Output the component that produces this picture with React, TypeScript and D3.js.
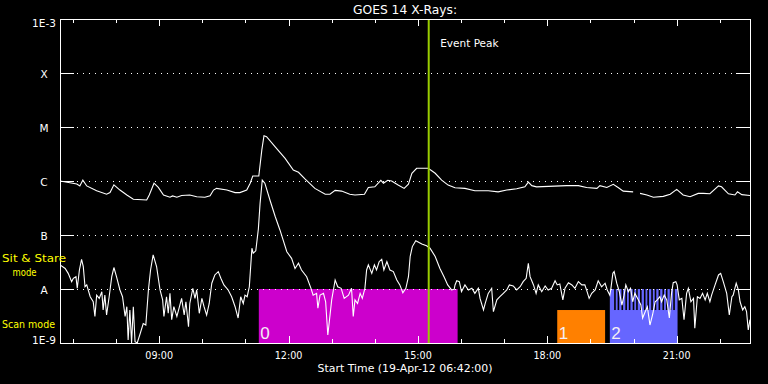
import React from "react";
import * as d3 from "d3";

const W = 768;
const H = 384;
const PL = 60, PR = 750, PT = 19, PB = 343;

const startHour = 6.7;
const endHour = 22.7;
const hourTicks = [7, 8, 9, 10, 11, 12, 13, 14, 15, 16, 17, 18, 19, 20, 21, 22];
const labeledHours = [9, 12, 15, 18, 21];
const tickLabels = ["09:00", "12:00", "15:00", "18:00", "21:00"];

const yLevels = [1e-9, 1e-8, 1e-7, 1e-6, 1e-5, 1e-4, 1e-3];
const yLabels = ["1E-9", "A", "B", "C", "M", "X", "1E-3"];
const gridLevels = [1e-8, 1e-7, 1e-6, 1e-5, 1e-4];

const eventPeak = 15.25;
const sitStareSplit = 4.08e-9; // boundary between sit&stare row and scan row

// [hour, flux] long channel (1-8 A)
const longChannel: [number, number][] = [
  [6.70, 1.0e-6], [7.09, 8.8e-7], [7.16, 8.1e-7], [7.23, 1.04e-6], [7.32, 8.1e-7],
  [7.55, 6.6e-7], [7.78, 5.7e-7], [7.86, 6.1e-7], [7.95, 8.5e-7], [8.09, 6.8e-7],
  [8.25, 5.5e-7], [8.40, 4.6e-7], [8.71, 4.45e-7], [8.77, 5.5e-7], [8.88, 9.1e-7],
  [8.98, 7.6e-7], [9.10, 5.5e-7], [9.25, 5.0e-7], [9.31, 5.3e-7], [9.41, 5.0e-7],
  [9.52, 5.4e-7], [9.71, 5.5e-7], [9.87, 5.1e-7], [10.06, 5.0e-7], [10.18, 5.3e-7],
  [10.26, 6.8e-7], [10.33, 7.3e-7], [10.57, 6.8e-7], [10.76, 6.1e-7], [10.87, 6.1e-7],
  [11.03, 6.8e-7], [11.11, 9.1e-7], [11.17, 1.24e-6], [11.31, 1.24e-6], [11.38, 3.76e-6],
  [11.43, 6.9e-6], [11.49, 6.6e-6], [11.69, 4.3e-6], [11.92, 2.63e-6], [12.11, 1.6e-6],
  [12.23, 1.45e-6], [12.38, 1.09e-6], [12.61, 7.3e-7], [12.85, 5.7e-7], [12.96, 5.7e-7],
  [13.08, 6.7e-7], [13.23, 6.5e-7], [13.42, 5.7e-7], [13.54, 5.5e-7], [13.76, 5.7e-7],
  [13.85, 7.6e-7], [14.00, 7.8e-7], [14.14, 1.03e-6], [14.20, 9.1e-7], [14.30, 1.03e-6],
  [14.39, 1.0e-6], [14.54, 8.4e-7], [14.68, 7.3e-7], [14.78, 8.7e-7], [14.86, 1.39e-6],
  [14.97, 1.72e-6], [15.24, 1.72e-6], [15.40, 1.39e-6], [15.55, 1.04e-6], [15.70, 8.4e-7],
  [15.86, 7.5e-7], [16.09, 7.3e-7], [16.32, 6.6e-7], [16.63, 6.6e-7], [16.86, 6.3e-7],
  [17.06, 6.8e-7], [17.29, 7.2e-7], [17.48, 7.8e-7], [17.56, 9.5e-7], [17.64, 8.2e-7],
  [17.75, 7.8e-7], [18.45, 8.2e-7], [18.72, 8.2e-7], [18.91, 7.6e-7], [19.15, 7.3e-7],
  [19.22, 8.2e-7], [19.38, 7.6e-7], [19.53, 8.7e-7], [19.65, 7.5e-7], [19.76, 6.5e-7],
  [19.99, 6.3e-7], [20.07, NaN], [20.15, 5.9e-7], [20.31, 5.5e-7], [20.46, 5.0e-7],
  [20.69, 5.2e-7], [20.85, 5.7e-7], [21.00, 7.0e-7], [21.15, 5.5e-7], [21.31, 5.1e-7],
  [21.50, 5.9e-7], [21.62, 5.9e-7], [21.77, 5.8e-7], [21.97, 8.1e-7], [22.04, 7.8e-7],
  [22.20, 5.8e-7], [22.35, 5.5e-7], [22.41, 6.3e-7], [22.51, 5.6e-7], [22.70, 5.4e-7],
];

// [hour, flux] short channel (0.5-4 A)
const shortChannel: [number, number][] = [
  [6.70, 2.8e-8], [6.82, 2.4e-8], [6.89, 1.95e-8], [6.97, 1.37e-8], [7.01, 1.58e-8],
  [7.07, 1.69e-8], [7.10, 1.03e-8], [7.15, 2.25e-8], [7.20, 3.55e-8], [7.24, 2.6e-8],
  [7.28, 1.1e-8], [7.32, 1.19e-8], [7.40, 7.2e-9], [7.47, 5.8e-9], [7.51, 3.1e-9],
  [7.55, 7.7e-9], [7.61, 6.7e-9], [7.67, 8.9e-9], [7.70, 4.1e-9], [7.74, 7.7e-9],
  [7.78, 3.3e-9], [7.84, 7.2e-9], [7.90, 1.69e-8], [7.95, 2.5e-8], [8.01, 1.69e-8],
  [8.09, 9.6e-9], [8.15, 7.2e-9], [8.21, 3.1e-9], [8.25, 4.7e-9], [8.28, 1.14e-9],
  [8.32, 4.1e-9], [8.36, 1.0e-9], [8.40, 4.7e-9], [8.44, 1.06e-9], [8.49, 1.0e-9],
  [8.56, 1.5e-9], [8.63, 2.3e-9], [8.69, 2.15e-9], [8.75, 9.6e-9], [8.80, 2.25e-8],
  [8.86, 4.3e-8], [8.94, 2.6e-8], [9.02, 9.6e-9], [9.08, 6.3e-9], [9.11, 3.1e-9],
  [9.17, 7.2e-9], [9.21, 3.55e-9], [9.25, 8.3e-9], [9.29, 2.7e-9], [9.34, 4.7e-9],
  [9.41, 3.1e-9], [9.47, 4.7e-9], [9.52, 6.7e-9], [9.58, 3.3e-9], [9.62, 5.8e-9],
  [9.68, 2.0e-9], [9.71, 5.4e-9], [9.78, 1.03e-8], [9.83, 6.7e-9], [9.87, 9.6e-9],
  [9.93, 3.55e-9], [9.99, 6.7e-9], [10.04, 4.7e-9], [10.10, 3.3e-9], [10.16, 5.4e-9],
  [10.22, 1.28e-8], [10.29, 1.82e-8], [10.37, 2.1e-8], [10.43, 1.58e-8], [10.50, 1.19e-8],
  [10.60, 9.6e-9], [10.68, 7.2e-9], [10.76, 4.7e-9], [10.83, 2.9e-9], [10.89, 7.2e-9],
  [10.95, 5.4e-9], [10.99, 7.7e-9], [11.04, 7.2e-9], [11.09, 1.1e-8], [11.15, 5.7e-8],
  [11.18, 4.6e-8], [11.24, 5.1e-8], [11.30, 1.3e-7], [11.34, 3.9e-7], [11.39, 1.04e-6],
  [11.45, 9.1e-7], [11.57, 4.4e-7], [11.69, 2.2e-7], [11.80, 1.24e-7], [11.96, 4.9e-8],
  [12.07, 3.7e-8], [12.15, 2.4e-8], [12.23, 3.0e-8], [12.30, 2.25e-8], [12.42, 1.69e-8],
  [12.52, 1.03e-8], [12.57, 7.7e-9], [12.65, 8.3e-9], [12.68, 4.4e-9], [12.73, 7.7e-9],
  [12.81, 8.3e-9], [12.86, 5.8e-9], [12.91, 1.41e-9], [12.94, 2.3e-9], [13.00, 6.3e-9],
  [13.08, 1.47e-8], [13.14, 1.1e-8], [13.22, 1.03e-8], [13.29, 6.7e-9], [13.39, 7.7e-9],
  [13.46, 1.03e-8], [13.50, 3.1e-9], [13.54, 6.3e-9], [13.60, 5.4e-9], [13.66, 8.3e-9],
  [13.71, 6.7e-9], [13.77, 1.03e-8], [13.81, 2.25e-8], [13.85, 2.8e-8], [13.93, 1.95e-8],
  [13.99, 2.8e-8], [14.04, 2.25e-8], [14.10, 3.2e-8], [14.16, 3.55e-8], [14.21, 2.25e-8],
  [14.28, 3.2e-8], [14.35, 2.25e-8], [14.43, 2.1e-8], [14.51, 1.47e-8], [14.58, 1.19e-8],
  [14.65, 8.5e-9], [14.72, 1.03e-8], [14.78, 1.69e-8], [14.82, 4.0e-8], [14.87, 6.1e-8],
  [14.95, 7.8e-8], [15.09, 6.8e-8], [15.20, 6.3e-8], [15.28, 5.7e-8], [15.40, 4.0e-8],
  [15.51, 2.4e-8], [15.61, 1.65e-8], [15.69, 1.19e-8], [15.78, 9.6e-9], [15.84, 9.9e-9],
  [15.86, 1.19e-8], [15.90, 1.42e-8], [15.96, 1.37e-8], [16.01, 8.9e-9], [16.09, 1.19e-8],
  [16.17, 9.6e-9], [16.25, 1.03e-8], [16.32, 8.3e-9], [16.40, 1.03e-8], [16.44, 6.7e-9],
  [16.52, 4.1e-9], [16.56, 5.4e-9], [16.63, 8.3e-9], [16.71, 1.03e-8], [16.75, 3.8e-9],
  [16.83, 6.3e-9], [16.90, 7.2e-9], [16.98, 8.3e-9], [17.06, 9.6e-9], [17.12, 1.19e-8],
  [17.21, 1.14e-8], [17.29, 9.6e-9], [17.37, 1.1e-8], [17.44, 1.37e-8], [17.51, 1.58e-8],
  [17.56, 3.0e-8], [17.60, 1.69e-8], [17.68, 1.19e-8], [17.74, 8.3e-9], [17.79, 1.19e-8],
  [17.87, 8.9e-9], [17.95, 1.14e-8], [18.02, 9.6e-9], [18.10, 1.03e-8], [18.18, 1.42e-8],
  [18.23, 1.19e-8], [18.29, 1.24e-8], [18.36, 6.3e-9], [18.41, 1.03e-8], [18.49, 1.31e-8],
  [18.57, 1.19e-8], [18.64, 1.03e-8], [18.72, 1.37e-8], [18.80, 1.19e-8], [18.87, 1.19e-8],
  [18.91, 9.6e-9], [18.97, 6.7e-9], [19.03, 8.3e-9], [19.11, 9.6e-9], [19.18, 1.42e-8],
  [19.26, 1.1e-8], [19.34, 1.28e-8], [19.39, 9.6e-9], [19.45, 7.7e-9], [19.47, 9.6e-9],
  [19.52, 1.95e-8], [19.55, 2.1e-8], [19.61, 1.28e-8], [19.67, 8.9e-9], [19.73, 5.05e-9],
  [19.78, 7.7e-9], [19.82, 1.19e-8], [19.88, 8.9e-9], [19.93, 1.03e-8], [19.98, 5.8e-9],
  [20.03, 8.3e-9], [20.11, 6.3e-9], [20.17, 5.05e-9], [20.21, 2.9e-9], [20.27, 3.8e-9],
  [20.32, 4.7e-9], [20.38, 2.15e-9], [20.44, 3.3e-9], [20.50, 5.8e-9], [20.55, 6.3e-9],
  [20.61, 7.2e-9], [20.65, 5.8e-9], [20.71, 7.7e-9], [20.77, 6.3e-9], [20.83, 2.9e-9],
  [20.88, 8.3e-9], [20.92, 1.31e-8], [20.98, 1.37e-8], [21.01, 1.19e-8], [21.06, 6.3e-9],
  [21.12, 6.7e-9], [21.17, 2.7e-9], [21.23, 8.3e-9], [21.27, 1.03e-8], [21.33, 5.8e-9],
  [21.39, 6.7e-9], [21.42, 1.87e-9], [21.48, 7.2e-9], [21.54, 6.7e-9], [21.60, 8.3e-9],
  [21.66, 6.3e-9], [21.71, 8.3e-9], [21.77, 5.8e-9], [21.81, 7.7e-9], [21.89, 1.19e-8],
  [21.97, 1.82e-8], [22.02, 1.95e-8], [22.08, 1.37e-8], [22.16, 8.3e-9], [22.22, 3.3e-9],
  [22.28, 7.2e-9], [22.31, 7.7e-9], [22.38, 1.28e-8], [22.43, 9.6e-9], [22.47, 5.8e-9],
  [22.53, 4.1e-9], [22.58, 4.7e-9], [22.62, 3.8e-9], [22.66, 1.74e-9], [22.70, 2.7e-9],
];

// observation mode blocks
const blockLabels = ["0", "1", "2"];
const blockStarts = [11.31, 18.23, 19.45];
const blockEnds = [15.92, 19.34, 21.02];
const blockRows = ["both", "scan", "both"];
const blockColors = ["#cc00cc", "#ff8000", "#6666ff"];

// short interruptions of sit & stare within block 2
const stareGaps = [19.55, 19.63, 19.72, 19.81, 19.89, 19.98, 20.06, 20.15, 20.24,
  20.32, 20.41, 20.49, 20.58, 20.67, 20.75, 20.84, 20.92];
const stareGapWidth = 0.037;

const FONT = "'DejaVu Sans', sans-serif";

export default function App() {
  const x = d3.scaleLinear().domain([startHour, endHour]).range([PL, PR]);
  const y = d3.scaleLog().domain([1e-9, 1e-3]).range([PB, PT]);

  const line = d3
    .line<[number, number]>()
    .defined((d) => !isNaN(d[1]))
    .x((d) => x(d[0]))
    .y((d) => y(Math.max(d[1], 1e-9)));

  const rowTop = y(1e-8);
  const rowSplit = y(sitStareSplit);

  return (
    <svg
      width={W}
      height={H}
      style={{ position: "absolute", left: 0, top: 0, background: "#000" }}
    >
      <rect x={0} y={0} width={W} height={H} fill="#000" />
      <defs>
        <clipPath id="plot">
          <rect x={PL} y={PT} width={PR - PL} height={PB - PT} />
        </clipPath>
      </defs>

      {/* mode blocks */}
      {blockLabels.map((lab, i) => {
        const x0 = x(blockStarts[i]);
        const x1 = x(blockEnds[i]);
        const top = blockRows[i] === "both" ? rowTop : rowSplit;
        return (
          <g key={lab}>
            <rect x={x0} y={top} width={x1 - x0} height={PB - top} fill={blockColors[i]} />
          </g>
        );
      })}
      {stareGaps.map((g, i) => (
        <rect
          key={i}
          x={x(g)}
          y={rowTop}
          width={x(g + stareGapWidth) - x(g)}
          height={rowSplit - rowTop}
          fill="#000"
        />
      ))}
      {blockLabels.map((lab, i) => (
        <text
          key={"t" + lab}
          x={x(blockStarts[i]) + 1.5}
          y={339}
          fill="#f4eef4"
          fontFamily="'Liberation Sans', sans-serif"
          fontSize={17}
        >
          {lab}
        </text>
      ))}

      {/* grid */}
      {gridLevels.map((v) => (
        <g key={v} shapeRendering="crispEdges">
          <line x1={77} x2={735} y1={Math.round(y(v)) + 0.5} y2={Math.round(y(v)) + 0.5}
            stroke="#fff" strokeWidth={1} strokeDasharray="1 5" />
          <line x1={PL} x2={PL + 14} y1={Math.round(y(v)) + 0.5} y2={Math.round(y(v)) + 0.5}
            stroke="#fff" />
          <line x1={PR - 14} x2={PR} y1={Math.round(y(v)) + 0.5} y2={Math.round(y(v)) + 0.5}
            stroke="#fff" />
        </g>
      ))}

      {/* curves */}
      <g clipPath="url(#plot)">
        <path d={line(longChannel) || ""} fill="none" stroke="#fff" strokeWidth={1.1} />
        <path d={line(shortChannel) || ""} fill="none" stroke="#fff" strokeWidth={1.1} />
      </g>

      {/* event peak */}
      <line x1={x(eventPeak)} x2={x(eventPeak)} y1={PT} y2={PB} stroke="#99cc00" strokeWidth={2} />
      <text x={x(eventPeak) + 11.5} y={47} fill="#fff" fontFamily={FONT} fontSize={10.5}>
        Event Peak
      </text>

      {/* frame */}
      <rect x={PL + 0.5} y={PT + 0.5} width={PR - PL} height={PB - PT} fill="none"
        stroke="#fff" strokeWidth={1} shapeRendering="crispEdges" />

      {/* x ticks */}
      {hourTicks.map((h) => {
        const major = labeledHours.includes(h);
        const len = major ? 7 : 4;
        const xx = Math.round(x(h)) + 0.5;
        return (
          <g key={h} shapeRendering="crispEdges">
            <line x1={xx} x2={xx} y1={PB} y2={PB - len} stroke="#fff" />
            <line x1={xx} x2={xx} y1={PT} y2={PT + len} stroke="#fff" />
          </g>
        );
      })}
      {labeledHours.map((h, i) => (
        <text key={h} x={x(h)} y={359} fill="#fff" fontFamily={FONT} fontSize={9.6}
          textAnchor="middle">
          {tickLabels[i]}
        </text>
      ))}

      {/* y labels */}
      {yLevels.map((v, i) => {
        let yy = y(v) + 5;
        if (i === 0) yy = 344;
        if (i === yLevels.length - 1) yy = 27;
        return (
          <text key={v} x={44} y={yy} fill="#ffffff" fontFamily={FONT} fontSize={10.5}
            textAnchor="middle">
            {yLabels[i]}
          </text>
        );
      })}

      {/* mode labels */}
      <text x={34} y={262} fill="#ffff00" fontFamily={FONT} fontSize={11}
        textAnchor="middle" textLength={64} lengthAdjust="spacingAndGlyphs">
        Sit &amp; Stare
      </text>
      <text x={24.5} y={276} fill="#ffff00" fontFamily={FONT} fontSize={11}
        textAnchor="middle" textLength={24} lengthAdjust="spacingAndGlyphs">
        mode
      </text>
      <text x={28.5} y={328} fill="#ffff00" fontFamily={FONT} fontSize={11}
        textAnchor="middle" textLength={53} lengthAdjust="spacingAndGlyphs">
        Scan mode
      </text>

      {/* title */}
      <text x={(PL + PR) / 2} y={14} fill="#fff" fontFamily={FONT} fontSize={12.3}
        textAnchor="middle">
        GOES 14 X-Rays:
      </text>
      <text x={(PL + PR) / 2} y={372} fill="#fff" fontFamily={FONT} fontSize={10}
        textAnchor="middle" textLength={175} lengthAdjust="spacingAndGlyphs">
        Start Time (19-Apr-12 06:42:00)
      </text>
    </svg>
  );
}
